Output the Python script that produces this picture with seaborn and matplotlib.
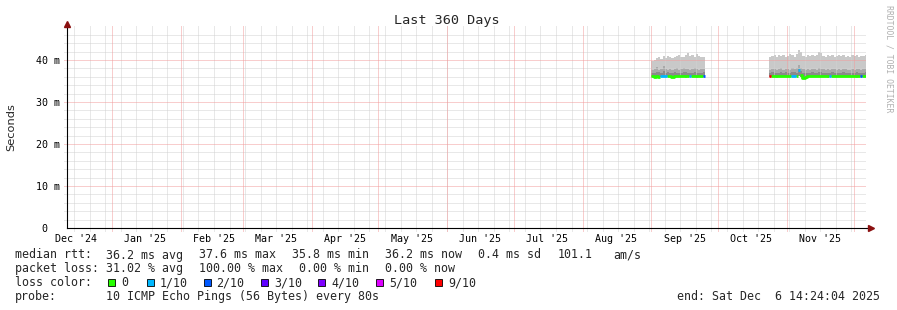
import numpy as np
import pandas as pd
import matplotlib
matplotlib.use("Agg")
import matplotlib.pyplot as plt
from matplotlib.patches import Rectangle
from matplotlib.lines import Line2D
import seaborn as sns

# ---------------- data ----------------
END_TIME = "2025-12-06 14:24:04"
SPAN_DAYS = 360

title = "Last 360 Days"
y_label = "Seconds"
y_ticks = [0, 10, 20, 30, 40]
y_tick_labels = ["0  ", "10 m", "20 m", "30 m", "40 m"]
y_max = 48

# chunk 1: daily samples from 2025-09-01 (ends 2025-09-25)
c1_start = "2025-09-01"
c1_end = "2025-09-25"
c1_median = [36.2, 36.0, 36.2, 35.9, 36.2, 36.3, 36.2, 36.2, 36.2, 35.9, 36.2, 36.2,
             36.2, 36.3, 36.2, 36.1, 36.2, 36.2, 36.2, 36.2, 36.1, 36.2, 36.2, 36.3]
c1_loss = [0, 0, 0, 0, 1, 1, 1, 0, 0, 0, 0, 0, 0, 0, 0, 0, 0, 1, 0, 0, 0, 0, 0, 2]
c1_min = [35.9, 35.7, 35.9, 35.6, 35.9, 36.0, 35.9, 35.9, 35.9, 35.6, 35.9, 35.9,
          35.9, 36.0, 35.9, 35.8, 35.9, 35.9, 35.9, 35.9, 35.8, 35.9, 35.9, 36.0]
c1_dark = [37.0, 36.9, 37.2, 37.1, 36.9, 37.3, 37.0, 37.1, 36.9, 37.0, 37.1, 37.0,
           36.9, 37.0, 37.2, 37.1, 37.0, 36.9, 37.0, 37.1, 37.0, 36.9, 37.0, 37.1]
c1_mid = [37.6, 37.9, 38.4, 37.7, 37.8, 38.6, 37.9, 37.7, 37.8, 37.6, 37.9, 38.0,
          37.7, 37.8, 38.2, 37.9, 37.8, 37.7, 37.9, 38.1, 37.8, 37.6, 37.8, 37.9]
c1_top = [39.8, 40.0, 40.5, 40.6, 40.3, 40.9, 40.5, 40.9, 40.6, 40.4, 40.7, 41.0,
          41.2, 40.8, 40.6, 41.3, 41.6, 40.9, 41.2, 40.7, 41.4, 41.0, 40.6, 40.8]

# chunk 2: daily samples from 2025-10-24 (ends at END_TIME)
c2_start = "2025-10-24"
c2_end = END_TIME
c2_median = [36.3, 36.2, 36.2, 36.1, 36.2, 36.2, 36.2, 36.3, 36.2, 36.2, 36.3, 36.2,
             36.2, 37.6, 36.4, 35.8, 35.9, 36.1, 36.2, 36.2, 36.2, 36.3, 36.2, 36.2,
             36.2, 36.2, 36.1, 36.2, 36.2, 36.2, 36.2, 36.2, 36.2, 36.3, 36.2, 36.2,
             36.2, 36.2, 36.2, 36.1, 36.2, 36.3, 36.2, 36.2]
c2_loss = [9, 0, 0, 0, 0, 0, 0, 0, 0, 0, 1, 1, 0, 1, 0, 0, 0, 0, 0, 0, 0, 0,
           0, 0, 0, 0, 0, 1, 0, 0, 0, 0, 0, 0, 0, 0, 0, 0, 0, 0, 0, 2, 0, 0]
c2_min = [35.9, 35.9, 35.9, 35.8, 35.9, 35.9, 35.9, 36.0, 35.9, 35.9, 36.0, 35.9,
          35.9, 36.3, 36.0, 35.5, 35.6, 35.8, 35.9, 35.9, 35.9, 36.0, 35.9, 35.9,
          35.9, 35.9, 35.8, 35.9, 35.9, 35.9, 35.9, 35.9, 35.9, 36.0, 35.9, 35.9,
          35.9, 35.9, 35.9, 35.8, 35.9, 36.0, 35.9, 35.9]
c2_dark = [37.0, 37.1, 37.0, 36.9, 37.0, 37.2, 37.0, 37.1, 37.0, 36.9, 37.2, 37.1,
           37.0, 37.9, 37.3, 36.9, 36.8, 37.0, 36.9, 37.1, 37.0, 36.9, 37.2, 37.1,
           37.0, 36.9, 37.0, 36.9, 37.1, 37.0, 36.9, 37.0, 36.9, 37.1, 37.0, 36.9,
           36.9, 37.0, 36.9, 37.1, 37.0, 36.9, 37.0, 37.1]
c2_mid = [37.7, 37.9, 37.8, 37.6, 37.8, 38.0, 37.7, 37.8, 37.9, 37.7, 38.1, 37.9,
          38.0, 38.9, 38.2, 37.8, 37.6, 37.8, 37.7, 37.9, 37.8, 37.7, 38.0, 37.9,
          37.8, 37.6, 37.8, 37.7, 37.9, 37.8, 37.6, 37.8, 37.7, 37.9, 37.8, 37.7,
          37.6, 37.8, 37.7, 37.9, 37.8, 37.7, 37.8, 37.9]
c2_top = [40.6, 41.0, 41.3, 40.8, 41.1, 40.9, 41.2, 40.7, 41.0, 41.4, 41.1, 40.8,
          41.5, 42.4, 41.9, 41.0, 40.8, 41.1, 40.9, 41.3, 41.0, 41.2, 41.8, 41.6,
          41.0, 40.8, 41.2, 40.9, 41.1, 40.7, 41.0, 41.3, 40.9, 41.1, 40.8, 41.0,
          40.7, 41.2, 40.9, 41.1, 40.8, 41.0, 40.9, 41.1]

loss_levels = [0, 1, 2, 3, 4, 5, 9]
loss_labels = ["0", "1/10", "2/10", "3/10", "4/10", "5/10", "9/10"]
loss_colors = ["#26ff00", "#00b8ff", "#0059ff", "#5e00ff", "#7e00ff", "#dd00ff", "#ff0000"]

legend_rows = [
    [(16, "median rtt:"), (107, "36.2 ms avg"), (200, "37.6 ms max"), (293, "35.8 ms min"),
     (386, "36.2 ms now"), (479, "0.4 ms sd"), (558, "101.1"), (614, "am/s")],
    [(16, "packet loss:"), (107, "31.02 % avg"), (200, "100.00 % max"), (300, "0.00 % min"),
     (386, "0.00 % now")],
    [(16, "loss color:")],
    [(16, "probe:"), (107, "10 ICMP Echo Pings (56 Bytes) every 80s"),
     (678, "end: Sat Dec  6 14:24:04 2025")],
]
legend_baselines = [258.5, 272.0, 286.0, 300.0]
loss_box_x = [108, 147, 204, 261, 318, 376, 435]
loss_text_x = [121, 160, 216, 274, 331, 389, 448]
watermark = "RRDTOOL / TOBI OETIKER"

# ---------------- style ----------------
sns.set_style("white")
MONO = "DejaVu Sans Mono"
plt.rcParams["font.family"] = ["DejaVu Sans Mono", "DejaVu Sans"]

SMOKE_LIGHT = "#c9c9c9"
SMOKE_MID = "#a9a9a9"
SMOKE_DARK = "#8a8a8a"
GRID = "#d2d2d2"
MGRID = "#f29c9c"
ARROW = "#8b1010"
PX = 0.72  # one pixel in points at 100 dpi

W, H = 897, 310
fig = plt.figure(figsize=(W / 100, H / 100), dpi=100, facecolor="white")
X0, X1 = 66.5, 866.0
Y0, Y1 = 228.0, 26.4
ax = fig.add_axes([X0 / W, 1 - Y0 / H, (X1 - X0) / W, (Y0 - Y1) / H])
ax.set_facecolor("white")

end_ts = pd.Timestamp(END_TIME)
start_ts = end_ts - pd.Timedelta(days=SPAN_DAYS)

chunks = [
    (c1_start, c1_end, c1_median, c1_loss, c1_min, c1_dark, c1_mid, c1_top),
    (c2_start, c2_end, c2_median, c2_loss, c2_min, c2_dark, c2_mid, c2_top),
]

def loss_name(n):
    return loss_labels[loss_levels.index(n)]

# smoke + median segments
rows = []
seg = 0
for (cs, ce, med, loss, mn, dk, md, tp) in chunks:
    edges = pd.DatetimeIndex(list(pd.date_range(cs, periods=len(med), freq="D")) + [pd.Timestamp(ce)])
    ext = lambda a: list(a) + [a[-1]]
    ax.fill_between(edges, ext(mn), ext(dk), step="post", color=SMOKE_DARK, lw=0, zorder=1)
    ax.fill_between(edges, ext(dk), ext(md), step="post", color=SMOKE_MID, lw=0, zorder=1)
    ax.fill_between(edges, ext(md), ext(tp), step="post", color=SMOKE_LIGHT, lw=0, zorder=1)
    n = len(med)
    i = 0
    while i < n:
        j = i
        while j + 1 < n and loss[j + 1] == loss[i]:
            j += 1
        lab = loss_name(loss[i])
        for k in range(i, j + 1):
            rows.append((edges[k], med[k], lab, seg))
        rows.append((edges[j + 1], med[j], lab, seg))
        seg += 1
        i = j + 1

df = pd.DataFrame(rows, columns=["time", "median", "loss", "seg"])
present = [l for l in loss_labels if l in set(df["loss"])]
pal = {l: c for l, c in zip(loss_labels, loss_colors) if l in present}
sns.lineplot(data=df, x="time", y="median", hue="loss", hue_order=present, palette=pal,
             units="seg", estimator=None, drawstyle="steps-post", linewidth=2.0,
             solid_capstyle="butt", legend=False, ax=ax, zorder=4)

ax.set_xlim(start_ts, end_ts)
ax.set_ylim(0, y_max)

# grid (drawn above smoke like rrdtool)
ext_y = -3 / (Y0 - Y1)
ext_x = -3 / (X1 - X0)
dots = (0, (1, 1))
weeks = pd.date_range(start_ts.normalize(), end_ts, freq="W-SUN")
months = pd.date_range(start_ts.normalize(), end_ts, freq="MS")
for w in weeks:
    ax.axvline(w, ymin=ext_y, ymax=1, color=GRID, lw=PX, ls=dots, clip_on=False, zorder=2.5)
for m in months:
    ax.axvline(m, ymin=ext_y, ymax=1, color=MGRID, lw=PX, ls=dots, clip_on=False, zorder=2.6)
for v in range(2, y_max, 2):
    if v % 10:
        ax.axhline(v, xmin=ext_x, xmax=1, color=GRID, lw=PX, ls=dots, clip_on=False, zorder=2.5)
for v in y_ticks[1:]:
    ax.axhline(v, xmin=ext_x, xmax=1, color=MGRID, lw=PX, ls=dots, clip_on=False, zorder=2.6)

# ticks
label_pos = [m + pd.Timedelta(days=15) for m in pd.date_range(start_ts.normalize() - pd.offsets.MonthBegin(1), end_ts, freq="MS")]
label_pos = [p for p in label_pos if start_ts <= p <= end_ts]
ax.set_xticks(label_pos, labels=[p.strftime("%b '%y") for p in label_pos])
ax.set_yticks(y_ticks, labels=y_tick_labels)
ax.tick_params(axis="x", length=0, pad=4.0, labelsize=7.2, labelcolor="black")
ax.tick_params(axis="y", length=0, pad=4.6, labelsize=7.2, labelcolor="black")
for lab in ax.get_xticklabels() + ax.get_yticklabels():
    lab.set_fontfamily(MONO)
ax.set_xlabel("")
ax.set_ylabel("")

for s in ["top", "right"]:
    ax.spines[s].set_visible(False)
for s in ["left", "bottom"]:
    ax.spines[s].set_color("black")
    ax.spines[s].set_linewidth(0.8)
    ax.spines[s].set_zorder(5)

def fx(x):
    return x / W

def fy(y):
    return 1 - y / H

# axis extensions + arrows
fig.add_artist(Line2D([fx(X1), fx(869)], [fy(Y0), fy(Y0)], color="black", lw=0.8))
fig.add_artist(Line2D([fx(X0), fx(X0)], [fy(Y1), fy(24)], color="black", lw=0.8))
fig.add_artist(Line2D([fx(871)], [fy(228.2)], marker=">", ms=4, color=ARROW, mec=ARROW, lw=0))
fig.add_artist(Line2D([fx(X0)], [fy(23.5)], marker="^", ms=4, color=ARROW, mec=ARROW, lw=0))

# title / labels
fig.text(fx(447), fy(24), title, ha="center", va="baseline", fontsize=9.7, family=MONO)
fig.text(fx(11), fy(127), y_label, ha="center", va="center", rotation=90, fontsize=8.2,
         family="DejaVu Sans")
fig.text(fx(888.5), fy(5), watermark, ha="center", va="top", rotation=270, fontsize=5.9,
         family=MONO, color="#b0b0b0")

# legend block
for row, base in zip(legend_rows, legend_baselines):
    for x, s in row:
        fig.text(fx(x - 0.7), fy(base), s, ha="left", va="baseline", fontsize=8.4, family=MONO)

for bx, tx, lab, col in zip(loss_box_x, loss_text_x, loss_labels, loss_colors):
    fig.add_artist(Rectangle((fx(bx), fy(285.5)), 7 / W, 7 / H, transform=fig.transFigure,
                             facecolor=col, edgecolor="black", lw=0.6))
    fig.text(fx(tx), fy(legend_baselines[2]), lab, ha="left", va="baseline", fontsize=8.4, family=MONO)

fig.savefig("out.png", dpi=100, facecolor="white")
